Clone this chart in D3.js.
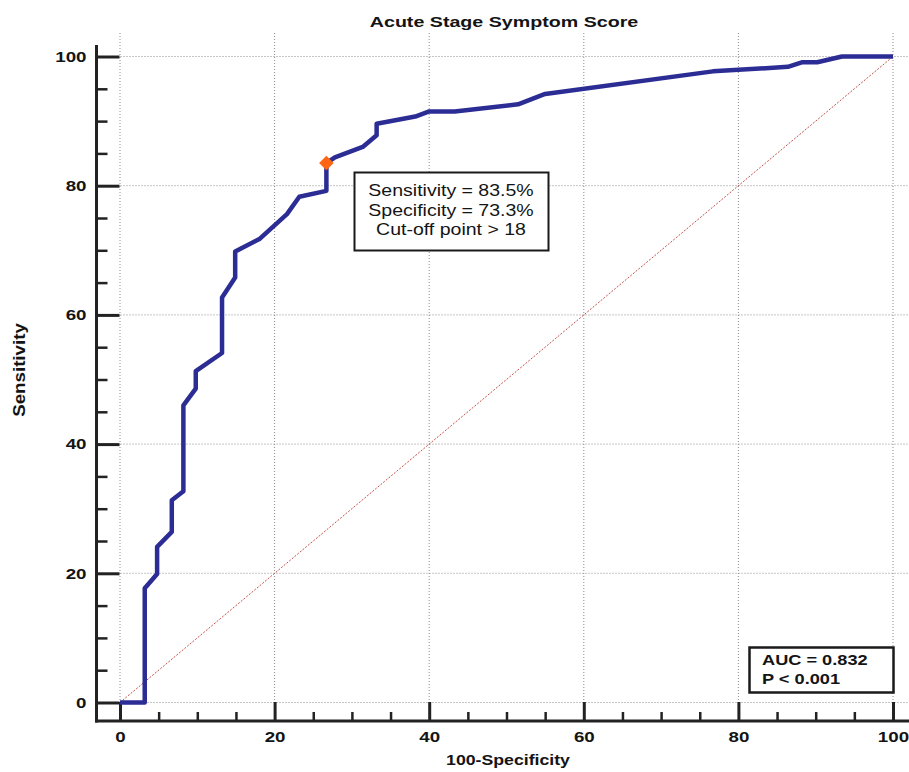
<!DOCTYPE html>
<html>
<head>
<meta charset="utf-8">
<script src="https://cdn.jsdelivr.net/npm/d3@7"></script>
<style>
  body { margin: 0; background: #fff; }
  text { font-family: "Liberation Sans", Arial, sans-serif; fill: #141414; }
</style>
</head>
<body>
<div class="canvas"></div>
<script>
// ROC curve points (100-specificity, sensitivity)
const fpr = [0, 3.2, 3.2, 4.8, 4.8, 6.7, 6.7, 8.2, 8.2, 9.8, 9.8, 13.2, 13.2, 14.9, 14.9, 18.1, 21.6, 23.2, 26.7, 26.7,
  27.8, 31.4, 33.2, 33.2, 38.2, 40.0, 43.3, 51.5, 55.0, 76.7, 86.4, 88.2, 90.2, 93.4, 100];
const tpr = [0, 0, 17.7, 19.9, 24.1, 26.4, 31.3, 32.7, 46.0, 48.6, 51.3, 54.1, 62.7, 65.8, 69.8, 71.8, 75.6, 78.3, 79.2, 83.5,
  84.4, 86.0, 87.8, 89.6, 90.7, 91.5, 91.5, 92.6, 94.2, 97.7, 98.4, 99.1, 99.1, 100, 100];
const diagonal = [0, 100];
const majorTicks = [0, 20, 40, 60, 80, 100];
const minorTicks = [5, 10, 15, 25, 30, 35, 45, 50, 55, 65, 70, 75, 85, 90, 95];
const cutoff = { specificity: 73.3, sensitivity: 83.5 };
const infoLines = ['Sensitivity = 83.5%', 'Specificity = 73.3%', 'Cut-off point > 18'];
const aucLines = ['AUC = 0.832', 'P < 0.001'];
const titleText = 'Acute Stage Symptom Score';
const xTitle = '100-Specificity';
const yTitle = 'Sensitivity';

const dims = { width: 909, height: 772 };
const frame = { left: 96.5, bottom: 721, top: 33, right: 909 };

const x = d3.scaleLinear().domain([0, 100]).range([120, 893]);
const y = d3.scaleLinear().domain([0, 100]).range([702.5, 56.5]);

const svg = d3.select('.canvas')
  .append('svg')
  .attr('width', dims.width)
  .attr('height', dims.height);

// text in the picture looks stretched sideways, so scale it
const stretchText = (parent, px, py, str, size, weight, sx, anchor, rot = 0) =>
  parent.append('text')
    .attr('transform', `translate(${px},${py}) rotate(${rot}) scale(${sx},1)`)
    .attr('text-anchor', anchor)
    .style('font-size', size + 'px')
    .style('font-weight', weight)
    .text(str);

// grid
const grid = svg.append('g').attr('stroke', '#8c8c8c').attr('stroke-width', 1).attr('stroke-dasharray', '1,2');
grid.selectAll('.vg').data(majorTicks).enter().append('line')
  .attr('x1', d => x(d)).attr('x2', d => x(d))
  .attr('y1', frame.top).attr('y2', frame.bottom);
grid.selectAll('.hg').data(majorTicks).enter().append('line')
  .attr('x1', frame.left).attr('x2', frame.right)
  .attr('y1', d => y(d)).attr('y2', d => y(d));

// diagonal reference
svg.append('path')
  .datum(diagonal)
  .attr('d', d3.line().x(d => x(d)).y(d => y(d)))
  .attr('stroke', '#c5524a').attr('stroke-width', 1).attr('stroke-dasharray', '2,1.5')
  .attr('fill', 'none');

// axes
const tickSx = 1.25;
const stretchTicks = g => g.selectAll('text').each(function () {
  const t = d3.select(this);
  const tx = +t.attr('x') || 0;
  t.attr('x', tx / tickSx).attr('transform', `scale(${tickSx},1)`);
});

const yAxis = svg.append('g').attr('transform', `translate(${frame.left},0)`)
  .call(d3.axisLeft(y).tickValues(majorTicks).tickSizeInner(-23).tickSizeOuter(0).tickPadding(10));
const yMinor = svg.append('g').attr('transform', `translate(${frame.left},0)`)
  .call(d3.axisLeft(y).tickValues(minorTicks).tickSizeInner(-11).tickSizeOuter(0).tickFormat(''));
const xAxis = svg.append('g').attr('transform', `translate(0,${frame.bottom})`)
  .call(d3.axisBottom(x).tickValues(majorTicks).tickSizeInner(-19).tickSizeOuter(0).tickPadding(10));
const xMinor = svg.append('g').attr('transform', `translate(0,${frame.bottom})`)
  .call(d3.axisBottom(x).tickValues(minorTicks).tickSizeInner(-9).tickSizeOuter(0).tickFormat(''));

[yAxis, yMinor, xAxis, xMinor].forEach(g => {
  g.select('.domain').remove();
  g.selectAll('line').attr('stroke', '#222').attr('stroke-width', 3);
  g.selectAll('text')
    .style('font-family', '"Liberation Sans", Arial, sans-serif')
    .style('font-size', '15px').style('font-weight', 'bold').attr('fill', '#141414');
  stretchTicks(g);
});
[yMinor, xMinor].forEach(g => g.selectAll('line').attr('stroke-width', 2.5));

svg.append('line').attr('x1', frame.left).attr('x2', frame.left).attr('y1', 45).attr('y2', frame.bottom + 1.5)
  .attr('stroke', '#222').attr('stroke-width', 3);
svg.append('line').attr('x1', frame.left - 1.5).attr('x2', frame.right).attr('y1', frame.bottom).attr('y2', frame.bottom)
  .attr('stroke', '#222').attr('stroke-width', 3);

// roc curve
svg.append('path')
  .datum(d3.zip(fpr, tpr))
  .attr('d', d3.line().x(d => x(d[0])).y(d => y(d[1])))
  .attr('fill', 'none')
  .attr('stroke', '#2c2d94')
  .attr('stroke-width', 4.5)
  .attr('stroke-linejoin', 'round');

// cut-off marker
svg.append('path')
  .attr('d', d3.symbol(d3.symbolSquare, 105)())
  .attr('transform', `translate(${x(100 - cutoff.specificity)},${y(cutoff.sensitivity)}) rotate(45)`)
  .attr('fill', '#ff6512');

// info box
svg.append('rect').attr('x', 354.5).attr('y', 172.5).attr('width', 194).attr('height', 78)
  .attr('fill', '#fff').attr('stroke', '#1a1a1a').attr('stroke-width', 2);
infoLines.forEach((s, i) => stretchText(svg, 451, 196 + i * 19.5, s, 16, 'normal', 1.22, 'middle'));

// AUC box
svg.append('rect').attr('x', 749.5).attr('y', 647.5).attr('width', 144).attr('height', 45)
  .attr('fill', '#fff').attr('stroke', '#1a1a1a').attr('stroke-width', 2.5);
aucLines.forEach((s, i) => stretchText(svg, 762, 665 + i * 19, s, 14, 'bold', 1.3, 'start'));

// titles
stretchText(svg, 504, 27, titleText, 15, 'bold', 1.31, 'middle');
stretchText(svg, 508, 765, xTitle, 15, 'bold', 1.18, 'middle');
stretchText(svg, 25, 370, yTitle, 16, 'bold', 1.17, 'middle', -90);
</script>
</body>
</html>
